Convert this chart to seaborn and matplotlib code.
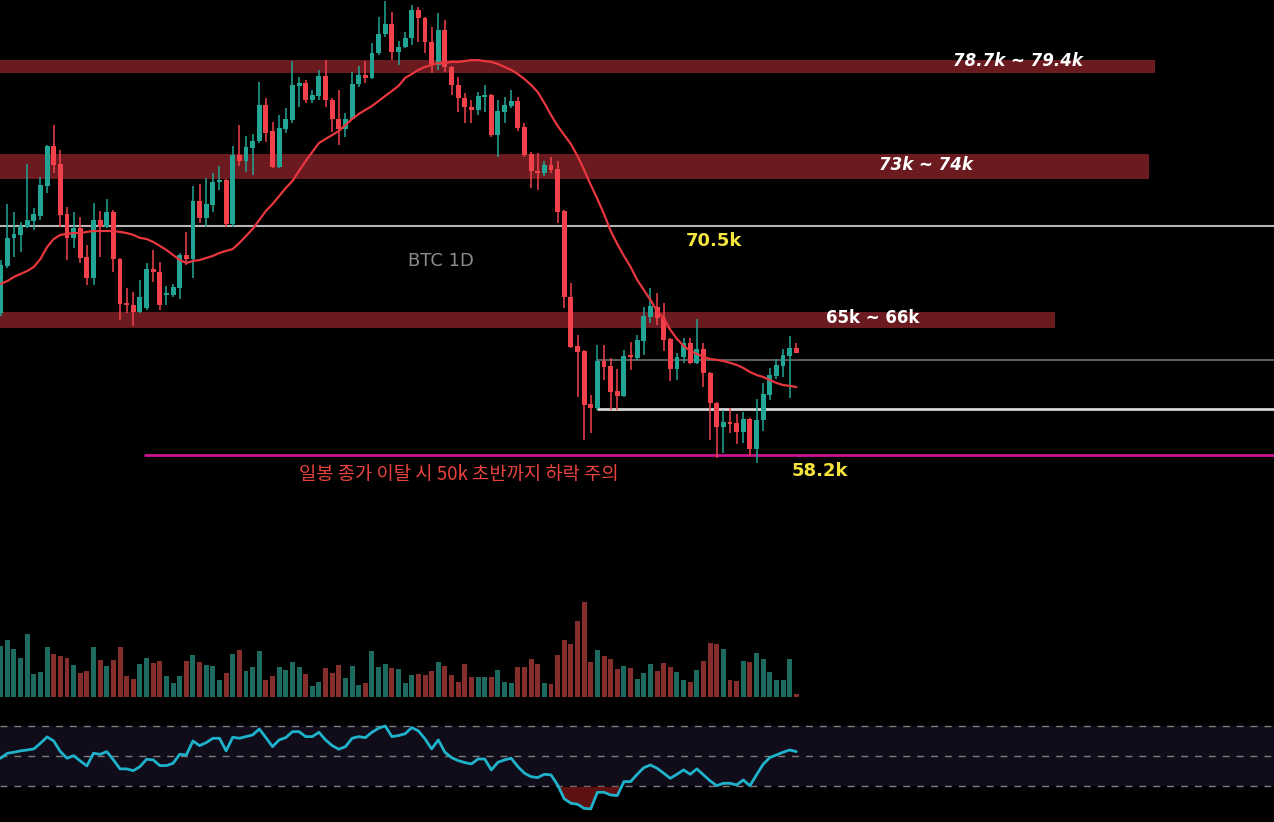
import numpy as np
import pandas as pd
import matplotlib
matplotlib.use("Agg")
import matplotlib.pyplot as plt
import seaborn as sns

# ---------------- data (prices in k USD) ----------------
opens = [65.82, 68.35, 69.86, 70.02, 70.45, 70.77, 71.04, 72.65, 74.80, 73.83,
         71.15, 69.86, 70.39, 68.83, 67.70, 70.82, 70.45, 71.25, 68.73, 66.36,
         66.25, 65.88, 66.09, 68.19, 68.03, 66.79, 66.79, 67.17, 68.94, 68.73,
         71.85, 70.93, 71.63, 72.87, 72.97, 70.61, 74.32, 74.00, 74.69, 75.07,
         77.01, 75.61, 73.67, 75.72, 76.20, 78.03, 78.19, 77.27, 77.49, 78.56,
         77.27, 76.25, 75.72, 76.25, 78.13, 78.62, 78.46, 79.80, 80.82, 81.36,
         79.85, 80.12, 80.61, 82.11, 81.68, 80.39, 79.16, 81.04, 79.05, 78.08,
         77.38, 76.90, 76.74, 77.44, 77.54, 75.39, 76.63, 76.95, 77.22, 75.82,
         74.37, 73.46, 73.35, 73.78, 73.57, 71.31, 66.68, 64.05, 63.78, 60.93,
         60.72, 63.24, 62.97, 61.63, 61.36, 63.51, 63.40, 64.32, 65.61, 66.15,
         65.55, 64.43, 62.81, 63.46, 64.21, 63.14, 63.89, 62.60, 60.98, 59.69,
         59.96, 59.91, 59.43, 60.12, 58.51, 60.07, 61.41, 62.44, 62.97, 63.51,
         63.94]
highs = [68.67, 71.68, 71.25, 70.72, 73.83, 71.47, 73.13, 74.86, 75.93, 74.59,
         71.52, 71.25, 70.98, 69.48, 71.74, 71.31, 71.95, 71.36, 68.78, 67.17,
         66.95, 67.60, 68.51, 69.21, 68.57, 67.27, 67.38, 69.05, 70.18, 72.65,
         72.76, 73.08, 73.35, 73.73, 73.03, 74.80, 75.93, 75.34, 75.45, 78.24,
         77.38, 76.09, 76.47, 76.84, 79.37, 78.51, 78.35, 77.81, 78.89, 79.42,
         77.38, 77.81, 76.57, 78.78, 79.10, 79.37, 80.34, 81.74, 82.60, 82.01,
         80.45, 80.93, 82.38, 82.27, 81.74, 81.20, 81.95, 81.57, 79.10, 78.51,
         77.65, 77.27, 77.70, 78.08, 77.60, 77.27, 77.44, 77.81, 77.44, 76.04,
         74.48, 74.43, 74.00, 74.21, 74.00, 71.36, 67.44, 64.64, 63.83, 61.41,
         64.10, 64.10, 63.40, 62.81, 63.83, 64.27, 64.64, 66.15, 67.17, 66.90,
         66.36, 64.48, 63.67, 64.48, 64.48, 65.50, 64.21, 62.65, 61.04, 60.61,
         60.72, 60.39, 60.50, 60.18, 61.20, 62.06, 62.87, 63.35, 63.89, 64.59,
         64.21]
lows = [65.66, 68.24, 68.83, 69.10, 70.39, 70.29, 70.82, 72.27, 73.35, 70.45,
        68.67, 69.32, 68.51, 67.33, 67.33, 68.83, 70.39, 68.03, 65.45, 65.82,
        65.12, 65.80, 65.98, 67.49, 65.98, 66.25, 66.68, 66.58, 68.40, 67.70,
        70.66, 70.45, 71.25, 72.44, 70.45, 70.45, 73.73, 73.40, 73.24, 74.96,
        75.02, 73.62, 73.62, 75.50, 76.04, 76.90, 77.11, 77.11, 77.27, 76.90,
        75.55, 74.86, 75.29, 76.20, 77.97, 78.19, 78.40, 79.69, 80.66, 79.42,
        79.16, 80.07, 80.23, 80.39, 79.80, 78.73, 78.89, 78.78, 77.54, 76.63,
        76.04, 76.04, 76.47, 76.63, 75.29, 74.21, 76.04, 76.84, 75.61, 74.21,
        72.54, 72.44, 73.19, 73.35, 70.66, 66.09, 63.94, 61.31, 59.00, 59.37,
        60.61, 62.22, 60.61, 60.61, 61.31, 62.76, 63.30, 63.57, 65.29, 65.18,
        63.78, 62.17, 62.22, 63.14, 63.08, 63.08, 61.84, 59.00, 58.03, 58.30,
        59.37, 58.78, 58.83, 58.14, 57.76, 59.48, 61.15, 62.28, 62.38, 61.25,
        63.67]
closes = [68.40, 69.86, 70.07, 70.50, 70.82, 71.15, 72.70, 74.80, 73.78, 71.09,
          69.86, 70.39, 68.78, 67.70, 70.82, 70.45, 71.25, 68.73, 66.31, 66.25,
          65.88, 66.68, 68.19, 68.03, 66.25, 66.84, 67.22, 68.94, 68.73, 71.85,
          70.93, 71.68, 72.87, 72.97, 70.61, 74.32, 74.00, 74.75, 75.07, 77.01,
          75.50, 73.67, 75.77, 76.25, 78.08, 78.19, 77.27, 77.54, 78.56, 77.27,
          76.25, 75.72, 76.25, 78.13, 78.62, 78.46, 79.80, 80.82, 81.36, 79.85,
          80.12, 80.61, 82.11, 81.68, 80.39, 79.16, 81.04, 79.05, 78.08, 77.38,
          76.90, 76.74, 77.49, 77.54, 75.39, 76.68, 77.01, 77.22, 75.77, 74.32,
          73.46, 73.35, 73.78, 73.51, 71.25, 66.68, 63.99, 63.73, 60.88, 60.72,
          63.24, 62.92, 61.58, 61.36, 63.51, 63.46, 64.37, 65.66, 66.20, 65.55,
          64.37, 62.81, 63.46, 64.21, 63.14, 63.89, 62.60, 60.98, 59.69, 59.96,
          59.86, 59.43, 60.12, 58.51, 60.07, 61.47, 62.49, 63.03, 63.57, 63.94,
          63.67]
ma_line = [67.38, 67.54, 67.76, 67.92, 68.08, 68.30, 68.73, 69.37, 69.80, 70.02,
           70.07, 70.12, 70.12, 70.18, 70.23, 70.23, 70.23, 70.23, 70.18, 70.12,
           70.02, 69.86, 69.80, 69.64, 69.43, 69.21, 68.94, 68.67, 68.51, 68.62,
           68.67, 68.78, 68.89, 69.05, 69.16, 69.26, 69.59, 69.96, 70.34, 70.82,
           71.31, 71.68, 72.11, 72.54, 72.92, 73.46, 73.99, 74.48, 74.96, 75.18,
           75.39, 75.61, 75.93, 76.25, 76.52, 76.74, 76.95, 77.22, 77.49, 77.76,
           78.03, 78.46, 78.67, 78.89, 79.05, 79.16, 79.26, 79.26, 79.32, 79.32,
           79.37, 79.42, 79.42, 79.37, 79.32, 79.21, 79.05, 78.89, 78.67, 78.40,
           78.08, 77.70, 77.11, 76.47, 75.88, 75.39, 74.91, 74.26, 73.51, 72.71,
           71.95, 71.14, 70.23, 69.53, 68.89, 68.30, 67.60, 67.06, 66.52, 65.93,
           65.55, 64.91, 64.43, 64.05, 63.78, 63.62, 63.46, 63.35, 63.30, 63.24,
           63.14, 63.03, 62.87, 62.65, 62.49, 62.38, 62.22, 62.06, 61.95, 61.90,
           61.84]
volume = [50.7, 56.7, 47.7, 39.0, 62.7, 22.7, 24.7, 49.7, 42.7, 40.7,
          38.7, 31.7, 23.7, 25.7, 49.7, 36.7, 30.7, 36.7, 49.7, 20.7,
          17.7, 32.7, 38.7, 33.7, 35.7, 20.7, 13.7, 20.7, 35.7, 41.7,
          34.7, 31.7, 30.7, 16.7, 23.7, 42.7, 46.7, 25.7, 29.7, 45.7,
          16.7, 20.7, 29.7, 26.7, 34.7, 29.7, 22.7, 10.7, 14.7, 28.7,
          23.7, 31.7, 18.7, 30.7, 11.7, 13.7, 45.7, 29.7, 32.7, 28.7,
          27.7, 13.7, 21.7, 22.7, 21.7, 25.7, 34.7, 30.7, 21.7, 14.7,
          32.7, 19.7, 19.7, 19.7, 19.7, 26.7, 14.7, 13.7, 29.7, 29.7,
          37.7, 32.7, 13.7, 12.7, 41.7, 56.7, 52.7, 75.7, 94.7, 34.7,
          46.7, 40.7, 37.7, 27.7, 30.7, 28.7, 17.7, 23.7, 32.7, 25.7,
          33.7, 29.7, 24.7, 16.7, 14.7, 26.7, 35.7, 53.7, 52.7, 47.7,
          16.7, 15.7, 35.7, 34.7, 43.7, 37.7, 24.7, 16.7, 16.7, 37.7,
          2.7]
rsi = [48.7, 52.0, 52.7, 53.6, 54.2, 54.9, 58.7, 62.9, 60.2, 53.1,
       48.7, 50.4, 46.9, 43.6, 52.0, 51.3, 53.1, 47.6, 41.6, 41.6,
       40.4, 43.1, 48.0, 47.6, 43.8, 43.8, 45.3, 51.3, 50.9, 60.2,
       57.1, 59.1, 62.0, 62.0, 53.6, 62.7, 62.0, 63.1, 64.2, 68.2,
       62.4, 56.4, 60.9, 62.4, 66.4, 66.4, 63.1, 63.1, 66.0, 60.9,
       57.1, 54.7, 56.4, 62.0, 63.1, 62.4, 66.0, 68.7, 70.2, 63.1,
       63.8, 65.0, 69.1, 66.9, 61.6, 54.9, 60.9, 52.7, 49.1, 47.1,
       45.8, 44.9, 48.2, 48.2, 40.9, 46.0, 47.6, 48.7, 43.1, 38.7,
       36.4, 35.8, 38.0, 37.6, 30.9, 21.6, 18.7, 18.0, 15.3, 14.9,
       26.0, 26.0, 24.2, 23.8, 33.1, 33.1, 38.0, 42.4, 44.2, 42.0,
       38.7, 35.3, 38.0, 40.9, 38.0, 41.6, 37.6, 33.6, 30.4, 32.0,
       32.0, 30.9, 34.2, 30.4, 37.6, 44.7, 49.1, 50.9, 52.7, 54.2,
       53.1]

zones = [(78.7, 79.4), (73.0, 74.35), (65.0, 65.9)]
zone_labels = ["78.7k ~ 79.4k", "73k ~ 74k", "65k ~ 66k"]
level_705 = 70.5
level_gray = 63.3
level_white = 60.67
level_582 = 58.2
title = "BTC 1D"
warn_text = "일봉 종가 이탈 시 50k 초반까지 하락 주의"

# ---------------- figure ----------------
sns.set_theme(style="dark", rc={"axes.facecolor": "black", "figure.facecolor": "black"})
plt.rcParams["font.family"] = ["DejaVu Sans"]

W, H = 1274, 822
STEP = 6.63
X0 = 0.7
XMIN = -X0 / STEP
XMAX = (W - X0) / STEP

fig = plt.figure(figsize=(W / 100, H / 100), dpi=100)
fig.patch.set_facecolor("black")


def add_axes(top, bottom):
    a = fig.add_axes([0, 1 - bottom / H, 1, (bottom - top) / H])
    a.set_facecolor("none")
    a.set_xlim(XMIN, XMAX)
    a.axis("off")
    return a


ax = add_axes(0, 560)
axv = add_axes(560, 697)
axr = add_axes(700, 822)

n = len(opens)
idx = np.arange(n)
o = np.array(opens); h = np.array(highs); l = np.array(lows); c = np.array(closes)
up = c >= o
GREEN = "#22a595"
RED = "#f2414b"

ax.set_ylim(52.54, 82.65)

# zones
zone_ends = [1155, 1149, 1055]
for (lo, hi), xe in zip(zones, zone_ends):
    ax.axhspan(lo, hi, xmin=0, xmax=xe / W, color="#6b1b20", lw=0, zorder=1)

# levels
ax.axhline(level_705, color="#b5b5b5", lw=1.5, zorder=1.5)
x_lvl = (597 - X0) / STEP
ax.hlines(level_gray, x_lvl, XMAX, color="#5a5a5a", lw=1.5, zorder=1.5)
ax.hlines(level_white, x_lvl, XMAX, color="#d6d6d6", lw=2, zorder=1.5)
ax.hlines(level_582, (144 - X0) / STEP, XMAX, color="#c8148f", lw=2, zorder=1.5)

# candles
cols = np.where(up, GREEN, RED)
ax.vlines(idx, l, h, colors=cols, lw=1.1, zorder=3)
body_lo = np.minimum(o, c)
body_h = np.maximum(np.abs(c - o), 0.08)
ax.bar(idx, body_h, bottom=body_lo, width=0.74, color=cols, lw=0, zorder=4)

# moving average
sns.lineplot(x=idx, y=ma_line, ax=ax, color="#e8373f", lw=1.6, zorder=5)
ax.set_xlim(XMIN, XMAX); ax.set_ylim(52.54, 82.65); ax.axis("off")


def dx(px):
    return (px - X0) / STEP


def py(ypx):
    return 82.65 - 0.05376 * ypx


ax.text(dx(1018), py(61), zone_labels[0], color="white", fontsize=12, fontweight="bold",
        fontstyle="italic", ha="center", va="center", zorder=6)
ax.text(dx(926), py(165), zone_labels[1], color="white", fontsize=12, fontweight="bold",
        fontstyle="italic", ha="center", va="center", zorder=6)
ax.text(dx(873), py(318), zone_labels[2], color="white", fontsize=12, fontweight="bold",
        ha="center", va="center", zorder=6)
ax.text(dx(714), py(241), "70.5k", color="#f5e43c", fontsize=13, fontweight="bold",
        ha="center", va="center", zorder=6)
ax.text(dx(820), py(471), "58.2k", color="#f5e43c", fontsize=13, fontweight="bold",
        ha="center", va="center", zorder=6)
ax.text(dx(441), py(261), title, color="#8c8c8c", fontsize=13,
        ha="center", va="center", zorder=6)
ax.text(dx(459), py(475), warn_text, color="#e8433f", fontsize=13.5,
        family=["Noto Sans CJK KR", "DejaVu Sans"], ha="center", va="center", zorder=6)

# volume
vdf = pd.DataFrame({"i": idx, "v": volume, "d": np.where(up, "up", "down")})
sns.barplot(data=vdf, x="i", y="v", hue="d", palette={"up": "#1d6a61", "down": "#862e2c"},
            native_scale=True, dodge=False, width=0.75, legend=False, errorbar=None,
            saturation=1, ax=axv, linewidth=0)
axv.set_xlim(XMIN, XMAX); axv.set_ylim(0, 137); axv.axis("off")

# RSI
axr.set_ylim(6.2, 87.5)
axr.axhspan(30, 70, color="#100c1a", lw=0, zorder=0)
for lv in (70, 50, 30):
    axr.axhline(lv, color="#7d7d7d", lw=1, dashes=(5, 5), zorder=1)
r = np.array(rsi)
axr.fill_between(idx, r, 30, where=r < 30, interpolate=True, color="#6a1414", alpha=0.9, lw=0, zorder=1.5)
sns.lineplot(x=idx, y=rsi, ax=axr, color="#1fb3cb", lw=2, zorder=3)
axr.set_xlim(XMIN, XMAX); axr.set_ylim(6.2, 87.5); axr.axis("off")

fig.savefig("out.png", dpi=100, facecolor="black")
